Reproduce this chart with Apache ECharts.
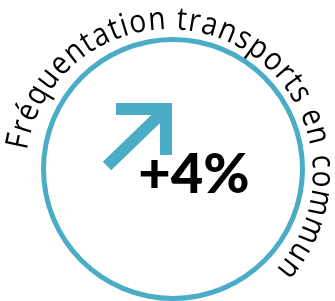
<!DOCTYPE html>
<html>
<head>
<meta charset="utf-8">
<script src="https://cdn.jsdelivr.net/npm/echarts@6/dist/echarts.min.js"></script>
<style>
  html, body { margin: 0; padding: 0; background: #fff; }
  #chart { width: 335px; height: 301px; }
</style>
</head>
<body>
<div id="chart"></div>
<script>
// data
const titles = ['Fréquentation transports en commun'];
const changes = [4];

const teal = '#4BACC6';
const chart = echarts.init(document.getElementById('chart'));

// curved title, one text per character along an arc
const arcCx = 169, arcCy = 173;
const baseR = 144;          // baseline radius
const boxR = baseR - 7;     // text box bottom sits a bit inside the baseline
const startDeg = 171, endDeg = -42;
const fontSize = 32, fontFamily = 'Open Sans';
const squeeze = 0.88;       // narrower glyphs, closer to the original face
const ctx = document.createElement('canvas').getContext('2d');
ctx.font = fontSize + 'px "' + fontFamily + '"';
const chars = Array.from(titles[0]);
const widths = chars.map(c => ctx.measureText(c).width * squeeze);
const totalW = widths.reduce((a, b) => a + b, 0);
const arcLen = (startDeg - endDeg) * Math.PI / 180 * baseR;
const gap = (arcLen - totalW) / (chars.length - 1);

const letters = [];
let pos = 0;
chars.forEach((c, i) => {
  const mid = pos + widths[i] / 2;
  const th = startDeg * Math.PI / 180 - mid / baseR;
  letters.push({
    type: 'text',
    x: arcCx + boxR * Math.cos(th),
    y: arcCy - boxR * Math.sin(th),
    rotation: th - Math.PI / 2,
    scaleX: squeeze,
    style: {
      text: c, fontSize: fontSize, fontFamily: fontFamily, fill: '#000',
      align: 'center', verticalAlign: 'bottom'
    }
  });
  pos += widths[i] + gap;
});

chart.setOption({
  animation: false,
  series: [{
    type: 'gauge',
    center: [173, 169],
    radius: 132,
    startAngle: 90,
    endAngle: -270,
    min: 0,
    max: 100,
    axisLine: { lineStyle: { width: 5, color: [[1, teal]] } },
    axisTick: { show: false },
    splitLine: { show: false },
    axisLabel: { show: false },
    pointer: { show: false },
    progress: { show: false },
    title: { show: false },
    detail: {
      offsetCenter: [21, 6],
      formatter: v => '+' + v + '%',
      fontFamily: 'Lato',
      fontWeight: 900,
      fontSize: 56,
      color: '#000'
    },
    data: [{ value: changes[0], name: titles[0] }]
  }],
  graphic: [
    {
      type: 'polyline',
      shape: { points: [[107, 166], [166, 109]] },
      style: { stroke: teal, lineWidth: 12, fill: null, lineCap: 'butt' }
    },
    {
      type: 'polyline',
      shape: { points: [[116, 109], [166, 109], [166, 155]] },
      style: { stroke: teal, lineWidth: 12, fill: null, lineJoin: 'miter', lineCap: 'butt' }
    }
  ].concat(letters)
});
</script>
</body>
</html>
